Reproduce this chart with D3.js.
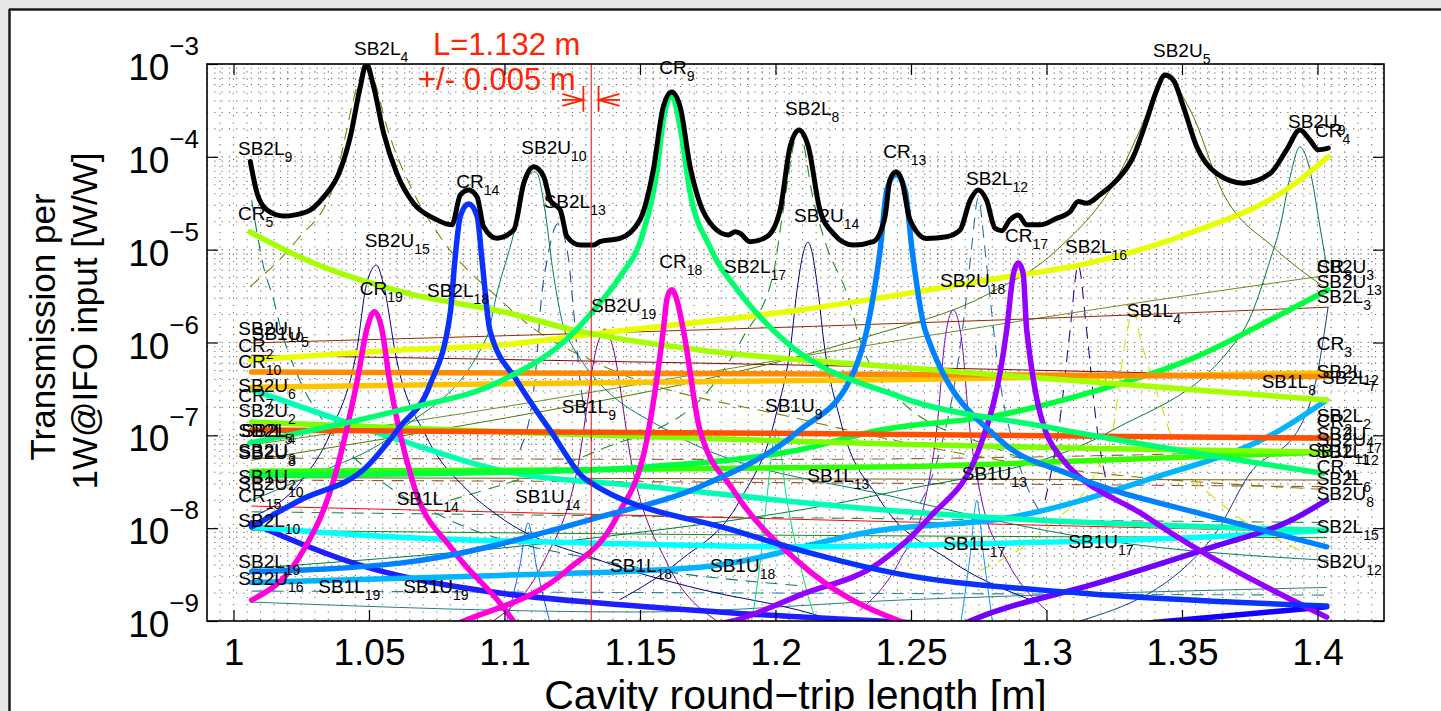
<!DOCTYPE html>
<html><head><meta charset="utf-8">
<script src="https://cdn.jsdelivr.net/npm/d3@7"></script>
<style>
html,body{margin:0;padding:0;background:#e8e8e8;}
svg{display:block;}
text{font-family:"Liberation Sans", Arial, Helvetica, sans-serif;}
</style></head><body>
<svg id="chart" width="1441" height="711"></svg>
<script>
// ---------- axes ----------
const xDomain = [0.99022, 1.42454];
const yDomain = [1e-9, 1e-3];
const xTicks = [1, 1.05, 1.1, 1.15, 1.2, 1.25, 1.3, 1.35, 1.4];
const xTickLabels = ["1", "1.05", "1.1", "1.15", "1.2", "1.25", "1.3", "1.35", "1.4"];
const yTickExp = [-9, -8, -7, -6, -5, -4, -3];

// ---------- series (x = round-trip length [m], y = transmission [W/W]) ----------
const total = [[1.0062,8.9e-5],[1.0087,4.05e-5],[1.0124,2.67e-5],[1.0185,2.3e-5],[1.0271,2.56e-5],[1.0333,3.7e-5],[1.0394,7.2e-5],[1.0431,1.65e-4],[1.0468,5.7e-4],[1.049,1.0e-3],[1.0517,5.7e-4],[1.0554,1.8e-4],[1.0603,6.6e-5],[1.0665,3.15e-5],[1.0739,2.18e-5],[1.0806,1.85e-5],[1.0837,3.9e-5],[1.0868,4.4e-5],[1.0899,3.7e-5],[1.0923,1.77e-5],[1.0972,1.33e-5],[1.1034,1.63e-5],[1.1071,5.2e-5],[1.1108,7.8e-5],[1.1145,6.1e-5],[1.1169,3.4e-5],[1.1206,2.67e-5],[1.1231,1.38e-5],[1.128,1.12e-5],[1.1329,1.12e-5],[1.1352,1.22e-5],[1.1426,1.32e-5],[1.15,2.1e-5],[1.1549,7.2e-5],[1.1586,3.47e-4],[1.1617,5.0e-4],[1.1648,3.47e-4],[1.1685,7.8e-5],[1.1721,3.16e-5],[1.177,1.77e-5],[1.1826,1.44e-5],[1.1851,1.56e-5],[1.1869,1.5e-5],[1.1906,1.22e-5],[1.1968,1.38e-5],[1.2017,2.67e-5],[1.2054,1.29e-4],[1.2087,1.95e-4],[1.2121,1.29e-4],[1.2164,2.67e-5],[1.2213,1.5e-5],[1.2287,1.12e-5],[1.2361,1.22e-5],[1.2404,2.27e-5],[1.2422,5.6e-5],[1.2445,6.9e-5],[1.2466,5.6e-5],[1.2496,2.1e-5],[1.2558,1.32e-5],[1.2632,1.38e-5],[1.2681,1.63e-5],[1.2718,3.4e-5],[1.2748,4.4e-5],[1.2779,3.4e-5],[1.281,1.7e-5],[1.2835,1.6e-5],[1.2865,2.1e-5],[1.2896,2.37e-5],[1.2927,1.85e-5],[1.2976,1.85e-5],[1.3038,2.18e-5],[1.3087,2.56e-5],[1.3117,3.3e-5],[1.3148,3.16e-5],[1.3197,3.9e-5],[1.3259,5.6e-5],[1.332,1.0e-4],[1.337,2.5e-4],[1.3407,5.25e-4],[1.3437,7.6e-4],[1.3468,6.7e-4],[1.3505,3.47e-4],[1.3554,1.29e-4],[1.3628,6.6e-5],[1.3726,5.2e-5],[1.3825,6.6e-5],[1.3886,1.19e-4],[1.3935,1.95e-4],[1.3972,1.52e-4],[1.4003,1.19e-4],[1.404,1.24e-4]];

// thick carrier / sideband curves
const cr9 = [[1.0061,8.3e-8],[1.0614,1.87e-7],[1.0983,3.8e-7],[1.1253,1.26e-6],[1.133,2.24e-6],[1.1426,5.1e-6],[1.1511,1.51e-5],[1.1563,7.2e-5],[1.1586,2.5e-4],[1.1617,4.6e-4],[1.1648,2.1e-4],[1.1685,4.1e-5],[1.1758,1.07e-5],[1.1869,3.4e-6],[1.2017,1.15e-6],[1.2459,2.6e-7],[1.3002,1.23e-7],[1.402,3.9e-8]];
const cr14 = [[1.0067,1.03e-8],[1.0245,2.0e-8],[1.0492,4.6e-8],[1.0614,1.23e-7],[1.0725,3.5e-7],[1.08,2.1e-6],[1.0817,7.7e-6],[1.0837,2.3e-5],[1.0868,3.1e-5],[1.0899,2.3e-5],[1.0917,7.7e-6],[1.0946,1.36e-6],[1.1045,3.9e-7],[1.1168,1.14e-7],[1.1303,3.3e-8],[1.1843,9.5e-9],[1.2459,3.2e-9],[1.3124,2.0e-9],[1.4034,1.45e-9]];
const cr13 = [[1.0067,3.4e-9],[1.0614,4.2e-9],[1.1352,1.32e-8],[1.1721,2.8e-8],[1.209,1.14e-7],[1.2274,3.9e-7],[1.2337,1.36e-6],[1.2386,9.9e-6],[1.2411,4.4e-5],[1.2445,6.4e-5],[1.2478,4.4e-5],[1.2504,9.9e-6],[1.2552,1.36e-6],[1.2828,8.9e-8],[1.3076,3.9e-8],[1.3614,1.32e-8],[1.4034,6.3e-9]];
const cr19 = [[1.0067,1.68e-9],[1.0245,5.0e-9],[1.0367,3.1e-8],[1.0455,3.7e-7],[1.0495,1.5e-6],[1.052,2.15e-6],[1.0545,1.5e-6],[1.0577,3.7e-7],[1.0662,3.1e-8],[1.081,5.8e-9],[1.0983,1.56e-9],[1.1057,8e-10]];
const cr18 = [[1.0762,8e-10],[1.0861,1.03e-9],[1.123,3.5e-9],[1.1414,1.32e-8],[1.1525,8.9e-8],[1.1586,1.36e-6],[1.16,3.0e-6],[1.1617,3.7e-6],[1.1634,3.0e-6],[1.166,1.36e-6],[1.1721,1.14e-7],[1.1843,2.6e-8],[1.209,4.2e-9],[1.2459,1.0e-9],[1.257,8e-10]];
const cr17 = [[1.1721,8.5e-10],[1.1843,1.0e-9],[1.209,1.9e-9],[1.2386,4.3e-9],[1.257,1.32e-8],[1.2755,7.6e-8],[1.2853,1.36e-6],[1.2878,5.5e-6],[1.2896,7.2e-6],[1.2914,5.5e-6],[1.2927,1.36e-6],[1.3024,7.6e-8],[1.337,1.32e-8],[1.4034,1.1e-9]];
const cr5 = [[1.0061,1.55e-5],[1.0271,7.7e-6],[1.064,3.4e-6],[1.1009,2.1e-6],[1.1256,1.36e-6],[1.1721,8.3e-7],[1.2459,5.4e-7],[1.3197,3.7e-7],[1.4034,2.4e-7]];
const cr4 = [[1.0061,6.5e-7],[1.0614,8.3e-7],[1.0983,9.4e-7],[1.1352,1.26e-6],[1.209,2.24e-6],[1.2828,4.95e-6],[1.316,7.2e-6],[1.3529,1.51e-5],[1.3898,4.7e-5],[1.4039,1.0e-4]];
const cr10 = [[1.0067,4.8e-7],[1.2,4.6e-7],[1.4039,4.3e-7]];
const sb2u6 = [[1.0067,3.3e-7],[1.1,3.6e-7],[1.25,4.0e-7],[1.4039,4.7e-7]];
const sb2l5 = [[1.0067,1.14e-7],[1.2,1.05e-7],[1.4039,9.3e-8]];
const sb2u2 = [[1.0067,1.39e-7],[1.0983,1.09e-7],[1.1721,9.3e-8],[1.2459,8.0e-8],[1.3197,7.2e-8],[1.4039,6.6e-8]];
const sb2u3 = [[1.0067,4.1e-8],[1.0983,4.2e-8],[1.2459,4.6e-8],[1.3197,5.4e-8],[1.4039,6.6e-8]];
const sb2l3 = [[1.0067,3.7e-8],[1.0983,4.0e-8],[1.1537,4.6e-8],[1.209,7.0e-8],[1.2386,1.14e-7],[1.2828,1.66e-7],[1.3197,3.1e-7],[1.3566,7.3e-7],[1.3825,1.75e-6],[1.4039,3.7e-6]];
const sb2l6 = [[1.0067,3.1e-7],[1.0614,8.9e-8],[1.0983,4.2e-8],[1.1537,2.8e-8],[1.2459,1.52e-8],[1.4034,9.5e-9]];
const sb2l15 = [[1.0067,1.03e-8],[1.0614,8.0e-9],[1.1352,6.9e-9],[1.209,6.3e-9],[1.2828,6.9e-9],[1.3566,8.0e-9],[1.4034,9.5e-9]];
const sb2l19 = [[1.0067,2.6e-9],[1.0983,3.1e-9],[1.1721,3.8e-9],[1.2386,9.5e-9],[1.2876,1.32e-8],[1.3369,3.3e-8],[1.3862,1.14e-7],[1.4034,2.4e-7]];
const sb2l10 = [[1.0067,1.14e-8],[1.0492,3.8e-9],[1.0983,2.0e-9],[1.1352,1.56e-9],[1.1843,1.22e-9],[1.2386,1.0e-9],[1.2828,8.5e-10]];
const sb1u19 = [[1.3197,8.5e-10],[1.3456,1.0e-9],[1.4034,1.42e-9]];
const sb2u8 = [[1.2644,8e-10],[1.2718,1.0e-9],[1.3197,2.6e-9],[1.3614,6.3e-9],[1.3899,1.2e-8],[1.4034,2.0e-8]];

// thin solid curves
const sb1l4 = [[1.0067,9.9e-7],[1.2828,1.75e-6],[1.4039,2.4e-6]];
const sb1l5 = [[1.0067,7.3e-7],[1.1721,6.0e-7],[1.4039,4.25e-7]];
const sb1l14 = [[1.0067,1.73e-8],[1.0983,1.49e-8],[1.2459,1.17e-8],[1.4034,9.1e-9]];
const sb1l11 = [[1.0067,3.5e-8],[1.4039,3.3e-8]];
const sb1l2 = [[1.0067,1.1e-7],[1.4039,9.8e-8]];
const sb1l17 = [[1.0067,9.5e-9],[1.2,8.4e-9],[1.4034,7.9e-9]];
const sb1u16 = [[1.0067,1.6e-9],[1.15,1.25e-9],[1.25,1.7e-9],[1.4034,2.3e-9]];
const sb1u1 = [[1.0067,7.9e-8],[1.0614,1.35e-7],[1.2459,1.06e-6],[1.3382,2.8e-6],[1.4039,5.3e-6]];
const sb2u15 = [[1.0067,1.32e-8],[1.0245,3.1e-8],[1.0367,1.23e-7],[1.0455,8.3e-7],[1.0492,4.4e-6],[1.0528,6.8e-6],[1.0552,4.4e-6],[1.0602,6.5e-7],[1.0713,9.5e-8],[1.0861,2.6e-8],[1.0983,1.32e-8],[1.1352,4.5e-9],[1.1721,2.2e-9],[1.209,1.3e-9],[1.2275,9e-10]];
const sb2u14 = [[1.1426,1.7e-9],[1.1648,4.5e-9],[1.1869,2.0e-8],[1.1998,1.5e-7],[1.206,1.15e-6],[1.2078,3.4e-6],[1.212,1.2e-5],[1.2158,3.4e-6],[1.2176,1.15e-6],[1.2238,1.5e-7],[1.2386,2.0e-8],[1.2644,4.5e-9],[1.2939,1.7e-9]];
const sb1l9 = [[1.0958,1e-9],[1.1142,4.2e-9],[1.1268,4.2e-8],[1.1345,1.0e-6],[1.137,1.4e-6],[1.1395,1.0e-6],[1.1474,4.2e-8],[1.16,4.2e-9],[1.1784,1e-9]];
const sb2u18 = [[1.2312,1.3e-9],[1.2459,4.5e-9],[1.2552,2.0e-8],[1.2599,1.5e-7],[1.2625,1.06e-6],[1.2656,2.24e-6],[1.2687,1.06e-6],[1.2713,1.5e-7],[1.2761,2.0e-8],[1.2853,4.5e-9],[1.3,1.3e-9]];
const sb2u10 = [[1.0067,2.0e-8],[1.0245,3.3e-8],[1.0614,1.14e-7],[1.0935,1.15e-6],[1.0972,3.4e-6],[1.1034,1.5e-5],[1.1071,4.75e-5],[1.1108,6.9e-5],[1.1121,6.6e-5],[1.1145,3.2e-5],[1.1182,5.1e-6],[1.1231,1.15e-6],[1.1598,1.14e-7],[1.2459,2.1e-8],[1.3197,7.5e-9],[1.4039,4.5e-9]];
const sb2u9 = [[1.0067,3.7e-9],[1.1352,8e-9],[1.2386,2.3e-8],[1.3245,1.14e-7],[1.3727,1.36e-6],[1.3825,7.7e-6],[1.3862,1.77e-5],[1.3899,6.1e-5],[1.3935,1.28e-4],[1.3972,7.2e-5],[1.4009,1.77e-5],[1.4034,6.5e-6]];
const sb2u5 = [[1.0067,5.4e-8],[1.0983,1.5e-7],[1.1721,3.9e-7],[1.2337,1.15e-6],[1.2791,3.4e-6],[1.3038,9.9e-6],[1.3282,7.8e-5],[1.3345,1.95e-4],[1.3437,7.2e-4],[1.353,3.2e-4],[1.3651,4.1e-5],[1.3836,1.07e-5],[1.4039,3.7e-6]];
const sb1u9 = [[1.1906,8e-10],[1.1943,4.2e-9],[1.1968,2.1e-8],[1.2003,1.14e-7],[1.2041,2.1e-8],[1.209,4.2e-9],[1.2152,1e-9],[1.22,7e-10]];
const sb2u13 = [[1.3124,1.0e-9],[1.3614,8e-9],[1.3751,3.9e-8],[1.3935,1.23e-7],[1.4,4.7e-7],[1.4039,2.4e-6]];
const sb1l18 = [[1.1,8e-10],[1.1057,4e-9],[1.1087,1.14e-8],[1.1117,4e-9],[1.1175,8e-10]];
const sb1l13 = [[1.268,8e-10],[1.2718,5e-9],[1.2743,2.0e-8],[1.2768,5e-9],[1.2805,8e-10]];

// thin dashed curves
const sb2l4 = [[1.0061,4.0e-6],[1.0234,1.27e-5],[1.0367,4.7e-5],[1.0467,7.2e-4],[1.049,1.0e-3],[1.0517,7.0e-4],[1.0566,2.1e-4],[1.0665,4.1e-5],[1.0763,1.37e-5],[1.0983,2.9e-6],[1.1083,1.6e-6],[1.1352,5.8e-7],[1.209,1.5e-7],[1.2828,5.4e-8],[1.4039,2.6e-8]];
const sb2l8 = [[1.0799,2e-8],[1.1352,7e-8],[1.1721,2.4e-7],[1.1881,1.15e-6],[1.1992,5.5e-6],[1.2023,2.1e-5],[1.2087,1.9e-4],[1.214,3.4e-5],[1.2189,1.07e-5],[1.2263,3.4e-6],[1.2312,1.06e-6],[1.2459,2.4e-7],[1.2828,7e-8],[1.3382,2e-8]];
const sb2l12 = [[1.2496,1.22e-8],[1.2607,6.9e-8],[1.2663,3.9e-7],[1.2706,3.4e-6],[1.2724,1.07e-5],[1.2748,3.6e-5],[1.2772,1.07e-5],[1.279,3.4e-6],[1.2828,3.9e-7],[1.2884,6.9e-8],[1.2995,1.22e-8]];
const sb2l16 = [[1.2995,2e-8],[1.305,1.5e-7],[1.3087,1.36e-6],[1.3117,6.8e-6],[1.3148,1.36e-6],[1.3182,1.5e-7],[1.3237,2e-8]];
const sb2l13 = [[1.1057,7e-8],[1.1112,3.9e-7],[1.1138,3.4e-6],[1.1157,7.7e-6],[1.1197,1.9e-5],[1.1237,7.7e-6],[1.1249,3.4e-6],[1.1279,3.9e-7],[1.1334,7e-8]];
const sb2l9 = [[1.0067,3.4e-5],[1.0087,1.5e-5],[1.0111,6.5e-6],[1.0148,2.9e-6],[1.0172,1.5e-6],[1.0245,3.9e-7],[1.0356,1.14e-7],[1.0541,3.3e-8],[1.0799,1.22e-8],[1.1352,4.5e-9],[1.209,2.4e-9]];
const sb1l7 = [[1.0067,5.7e-8],[1.2,5.5e-8],[1.4039,6.9e-8]];
const sb1l6 = [[1.0067,3.3e-8],[1.2,3.1e-8],[1.4039,2.8e-8]];
const sb1u12 = [[1.0067,2.1e-9],[1.2,2.0e-9],[1.4034,1.9e-9]];
const sb1u15 = [[1.0067,1.5e-8],[1.2,1.3e-8],[1.4034,1.15e-8]];
const sb1l16 = [[1.2755,3.5e-9],[1.3024,1.14e-8],[1.3186,4.2e-8],[1.3245,1.14e-7],[1.329,1.0e-6],[1.332,2.2e-6],[1.335,1.0e-6],[1.3413,2.6e-7],[1.3498,5.0e-8],[1.3614,2.2e-8],[1.3935,5.8e-9]];

// ---------- annotations ----------
const cavityL = 1.132;
const tolBars = [1.1291, 1.1347];
const tolArrowEnds = [1.1212, 1.1426];
const tolArrowY = 4.1e-4;
const tolBarY = [5.8e-4, 3.06e-4];
const redTexts = [["L=1.132 m", 1.07362, 1.25e-3], ["+/- 0.005 m", 1.06808, 5.25e-4]];

const peakLabels = [
 ["SB2L","4",1.04446,1.25e-3],["SB2L","9",1.00166,1.05e-4],["CR","5",1.00166,2.09e-5],
 ["SB2U","15",1.04841,1.08e-5],["CR","19",1.04657,3.25e-6],["SB2L","18",1.0714,3.09e-6],
 ["CR","14",1.08221,4.65e-5],["SB2U","10",1.1062,1.06e-4],["SB2L","13",1.11446,2.79e-5],
 ["CR","9",1.15712,7.8e-4],["SB2L","8",1.2035,2.82e-4],["CR","13",1.23978,9.64e-5],
 ["SB2U","14",1.20683,2.0e-5],["CR","18",1.15712,6.3e-6],["SB2L","17",1.181,5.56e-6],
 ["SB2U","19",1.13192,2.15e-6],["SB2U","18",1.2607,3.99e-6],["SB2L","12",1.2703,4.98e-5],
 ["CR","17",1.28469,1.22e-5],["SB2L","16",1.30683,9.14e-6],["SB1L","4",1.3296,1.9e-6],
 ["SB2U","5",1.3393,1.2e-3],["SB2U","9",1.38911,2.03e-4],["CR","4",1.39908,1.65e-4]
];
const rightLabels = [
 ["CR","8",1.3997,5.6e-6],["SB2U","3",1.3997,5.6e-6],["SB2U","13",1.3997,3.86e-6],
 ["SB2L","3",1.3997,2.66e-6],["CR","3",1.3997,8.3e-7],["SB2L","12",1.3997,4.14e-7],
 ["SB2L","7",1.4017,3.57e-7],["SB1L","8",1.3794,3.2e-7],["SB2L","2",1.3997,1.4e-7],
 ["CR","2",1.3997,1.24e-7],["SB2U","4",1.3997,8.9e-8],["SB2U","17",1.3997,7.7e-8],
 ["SB1L","11",1.39649,5.9e-8],["SB2L","12",1.3997,5.7e-8],["CR","11",1.3997,3.9e-8],
 ["SB2L","6",1.3997,2.92e-8],["SB2U","8",1.3997,2.01e-8],["SB2L","15",1.3997,8.8e-9],
 ["SB2U","12",1.3997,3.69e-9]
];
const leftLabels = [
 ["SB2U","10",1.00177,1.21e-6],["SB1U","5",1.00672,1.06e-6],["CR","2",1.00177,7.96e-7],
 ["CR","10",1.00177,5.27e-7],["SB2U","6",1.00177,2.95e-7],["CR","7",1.00177,2.3e-7],
 ["SB2U","2",1.00177,1.58e-7],["SB2L","5",1.00177,9.66e-8],["SB2L","4",1.0029,9.66e-8],
 ["SB2U","3",1.00177,5.89e-8],["SB2U","8",1.00177,5.6e-8],["SB1U","2",1.00177,3.04e-8],
 ["SB2U","10",1.00177,2.58e-8],["CR","15",1.00177,1.93e-8],["SB2L","10",1.00177,1.04e-8],
 ["SB2L","19",1.00177,3.69e-9],["SB2U","16",1.00177,2.44e-9]
];
const innerLabels = [
 ["SB1L","14",1.06022,1.77e-8],["SB1L","19",1.03129,1.99e-9],["SB1U","19",1.06266,1.99e-9],
 ["SB1L","9",1.12111,1.73e-7],["SB1U","9",1.19613,1.79e-7],["SB1U","14",1.10387,1.85e-8],
 ["SB1L","18",1.13893,3.4e-9],["SB1U","18",1.17583,3.4e-9],["SB1L","13",1.21173,3.16e-8],
 ["SB1U","13",1.26871,3.3e-8],["SB1L","17",1.26192,5.82e-9],["SB1U","17",1.30804,6.07e-9]
];

// ---------- styles (drawing order) ----------
const DASH = "12,8";
const seriesStyles = [
 {d: sb1u12, c:"#2a8a8a", w:1.1, dash:DASH},
 {d: sb1u15, c:"#2e8b57", w:1.1, dash:DASH},
 {d: sb1l6, c:"#a0522d", w:1.1, dash:DASH},
 {d: sb1l7, c:"#a0602d", w:1.1, dash:DASH},
 {d: sb2l9, c:"#00806a", w:1.1, dash:DASH},
 {d: sb2l4, c:"#808000", w:1.1, dash:DASH},
 {d: sb2l8, c:"#1f8f1f", w:1.1, dash:DASH},
 {d: sb2l12, c:"#2a6fa8", w:1.1, dash:DASH},
 {d: sb2l16, c:"#3a0090", w:1.1, dash:DASH},
 {d: sb2l13, c:"#2050a0", w:1.1, dash:DASH},
 {d: sb1l16, c:"#dede00", w:1.1, dash:DASH},
 {d: sb1u16, c:"#2a8080", w:1},
 {d: sb1l17, c:"#1a8a1a", w:1},
 {d: sb1l2, c:"#8b4513", w:1},
 {d: sb1l11, c:"#7a5a00", w:1},
 {d: sb1u1, c:"#6b8e23", w:1},
 {d: sb1l4, c:"#962800", w:1},
 {d: sb1l5, c:"#8b0000", w:1},
 {d: sb1l14, c:"#ff0000", w:1},
 {d: sb2u15, c:"#000080", w:1},
 {d: sb2u14, c:"#000080", w:1},
 {d: sb1l9, c:"#800080", w:1},
 {d: sb2u18, c:"#8000c0", w:1},
 {d: sb2u10, c:"#008060", w:1},
 {d: sb2u9, c:"#007a3c", w:1},
 {d: sb2u5, c:"#4d7a00", w:1},
 {d: sb1u9, c:"#00e070", w:1},
 {d: sb2u13, c:"#1a3a8a", w:1},
 {d: sb1l18, c:"#1060ff", w:1},
 {d: sb1l13, c:"#1090ff", w:1},
 {d: sb2l10, c:"#1e1eff", w:5.5},
 {d: sb1u19, c:"#1400ff", w:5.5},
 {d: sb2l19, c:"#00b4ff", w:5.5},
 {d: sb2l15, c:"#00ffff", w:5.5},
 {d: sb2l6, c:"#00ffb4", w:5.5},
 {d: sb2u3, c:"#32ff00", w:5.5},
 {d: sb2l3, c:"#00ff3c", w:5.5},
 {d: sb2u2, c:"#7dff00", w:5.5},
 {d: sb2l5, c:"#ff5000", w:5.5},
 {d: sb2u6, c:"#ffc400", w:5.5},
 {d: cr10, c:"#ff8c00", w:5.5},
 {d: cr4, c:"#e8ff00", w:5.5},
 {d: cr5, c:"#a6ff00", w:5.5},
 {d: sb2u8, c:"#6e00ff", w:5.5},
 {d: cr17, c:"#9600ff", w:5.5},
 {d: cr18, c:"#ff00dc", w:5.5},
 {d: cr19, c:"#ff00dc", w:5.5},
 {d: cr13, c:"#0082ff", w:5.5},
 {d: cr14, c:"#0a32ff", w:5.5},
 {d: cr9, c:"#00ff6e", w:5.5},
 {d: total, c:"#000000", w:5}
];

// ---------- drawing ----------
const W = 1441, H = 711;
const M = {l:207, t:64, r:1384, b:621};
const svg = d3.select("#chart");
const x = d3.scaleLinear().domain(xDomain).range([M.l, M.r]);
const y = d3.scaleLog().domain(yDomain).range([M.b, M.t]);
const FONT = '"Liberation Sans", Arial, Helvetica, sans-serif';

svg.append("rect").attr("width", W).attr("height", H).attr("fill", "#e8e8e8");
svg.append("rect").attr("x", 9).attr("y", 9).attr("width", W).attr("height", H).attr("fill", "#fff");
svg.append("line").attr("x1", 9.5).attr("x2", 9.5).attr("y1", 9).attr("y2", H).attr("stroke", "#1a1a1a").attr("stroke-width", 2.5);
svg.append("line").attr("x1", 9).attr("x2", W).attr("y1", 9.5).attr("y2", 9.5).attr("stroke", "#1a1a1a").attr("stroke-width", 2.5);

svg.append("defs").append("clipPath").attr("id", "plotclip")
  .append("rect").attr("x", M.l).attr("y", M.t).attr("width", M.r - M.l).attr("height", M.b - M.t);

// grid (dotted)
const grid = svg.append("g").attr("stroke", "#000").attr("stroke-width", 1.1).attr("stroke-dasharray", "1.1,6.2").attr("opacity", 0.6);
d3.range(0.995, 1.4226, 0.005).forEach(v => {
  grid.append("line").attr("x1", x(v)).attr("x2", x(v)).attr("y1", M.t).attr("y2", M.b);
});
const yGridVals = [];
yTickExp.forEach(e => { for (let k = 1; k <= 9; k++) { const v = k * Math.pow(10, e); if (v <= 1e-3 * 1.0001) yGridVals.push(v); } });
yGridVals.forEach(v => {
  grid.append("line").attr("x1", M.l).attr("x2", M.r).attr("y1", y(v)).attr("y2", y(v));
});

// curves
const line = d3.line().x(d => x(d[0])).y(d => y(d[1])).curve(d3.curveMonotoneX);
const gC = svg.append("g").attr("clip-path", "url(#plotclip)");
seriesStyles.forEach(s => {
  gC.append("path").attr("d", line(s.d)).attr("fill", "none").attr("stroke", s.c)
    .attr("stroke-width", s.w).attr("stroke-dasharray", s.dash || null)
    .attr("stroke-linejoin", "round").attr("stroke-linecap", s.dash ? "butt" : "round");
});

// red annotation
const red = "#ff2200";
const gR = svg.append("g");
gR.append("line").attr("x1", x(cavityL)).attr("x2", x(cavityL)).attr("y1", M.t).attr("y2", M.b).attr("stroke", "#ff0000").attr("stroke-width", 1);
const ay = y(tolArrowY);
gR.append("line").attr("x1", x(tolArrowEnds[0])).attr("x2", x(tolBars[0])).attr("y1", ay).attr("y2", ay).attr("stroke", red).attr("stroke-width", 1.8);
gR.append("line").attr("x1", x(tolBars[1])).attr("x2", x(tolArrowEnds[1])).attr("y1", ay).attr("y2", ay).attr("stroke", red).attr("stroke-width", 1.8);
tolBars.forEach(b => gR.append("line").attr("x1", x(b)).attr("x2", x(b)).attr("y1", y(tolBarY[0])).attr("y2", y(tolBarY[1])).attr("stroke", red).attr("stroke-width", 1.8));
[[tolBars[0], -1], [tolBars[1], 1]].forEach(([b, s]) => {
  const tx = x(b);
  gR.append("path").attr("d", `M${tx + s * 21},${ay - 6}L${tx},${ay}L${tx + s * 21},${ay + 6}`)
    .attr("fill", "none").attr("stroke", red).attr("stroke-width", 1.8);
});
redTexts.forEach(([t, lx, ly]) => {
  gR.append("text").attr("x", x(lx)).attr("y", y(ly)).attr("font-size", 31).attr("fill", red).attr("font-family", FONT).text(t);
});

// labels
const gL = svg.append("g").attr("font-family", FONT).attr("fill", "#000");
[...peakLabels, ...rightLabels, ...leftLabels, ...innerLabels].forEach(([t, s, lx, ly]) => {
  const tx = gL.append("text").attr("x", x(lx)).attr("y", y(ly)).attr("font-size", 19);
  tx.append("tspan").text(t);
  tx.append("tspan").attr("font-size", 14).attr("dy", 7).text(s);
});

// axes box and ticks
const styleAxis = g => { g.select(".domain").remove(); g.selectAll("line").attr("stroke", "#000").attr("stroke-width", 1.2); };
svg.append("g").attr("transform", `translate(0,${M.b})`)
  .call(d3.axisBottom(x).tickValues(xTicks).tickFormat((d, i) => xTickLabels[i]).tickSize(-11).tickPadding(18))
  .call(styleAxis)
  .call(g => g.selectAll("text").attr("font-size", 37).attr("font-family", FONT).attr("fill", "#000"));
svg.append("g").attr("transform", `translate(0,${M.t})`)
  .call(d3.axisTop(x).tickValues(xTicks).tickFormat("").tickSize(-11)).call(styleAxis);
const yTickVals = yTickExp.map(e => Math.pow(10, e));
svg.append("g").attr("transform", `translate(${M.l},0)`)
  .call(d3.axisLeft(y).tickValues(yTickVals).tickFormat("").tickSize(-11)).call(styleAxis);
svg.append("g").attr("transform", `translate(${M.r},0)`)
  .call(d3.axisRight(y).tickValues(yTickVals).tickFormat("").tickSize(-11)).call(styleAxis);
svg.append("rect").attr("x", M.l).attr("y", M.t).attr("width", M.r - M.l).attr("height", M.b - M.t)
  .attr("fill", "none").attr("stroke", "#000").attr("stroke-width", 1.6);

yTickExp.forEach(e => {
  const t = svg.append("text").attr("x", 199).attr("y", y(Math.pow(10, e)) + 16)
    .attr("text-anchor", "end").attr("font-size", 37).attr("font-family", FONT).attr("fill", "#000");
  t.append("tspan").text("10");
  t.append("tspan").attr("dy", -25).attr("font-size", 26).text("\u2212" + Math.abs(e));
});

// titles
svg.append("text").attr("x", (M.l + M.r) / 2).attr("y", 709).attr("text-anchor", "middle")
  .attr("font-size", 41).attr("font-family", FONT).attr("fill", "#000").text("Cavity round\u2212trip length [m]");
const yt = svg.append("g").attr("font-family", FONT).attr("font-size", 35).attr("fill", "#000").attr("text-anchor", "middle");
yt.append("text").attr("transform", "translate(55,327) rotate(-90)").text("Transmission per");
yt.append("text").attr("transform", "translate(97,321) rotate(-90)").text("1W@IFO input [W/W]");
</script>
</body></html>
